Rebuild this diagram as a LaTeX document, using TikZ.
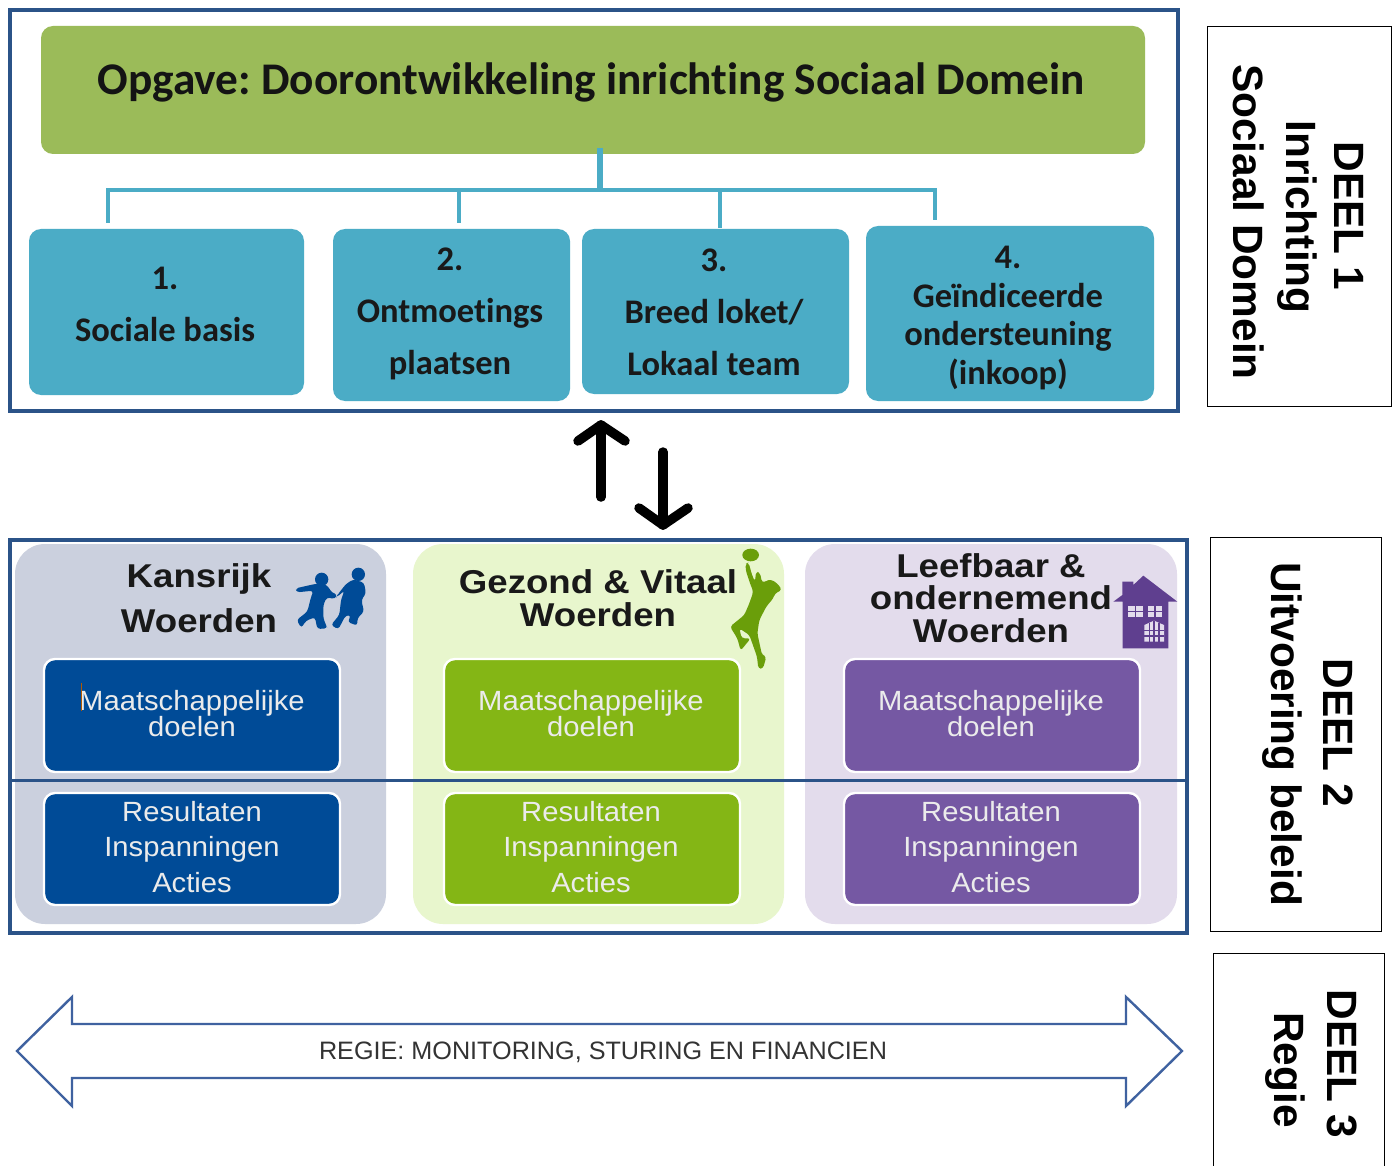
\documentclass[tikz,border=0pt]{standalone}
\usepackage{fontspec}
\setmainfont[Ligatures=NoCommon]{Carlito}
\newfontfamily\arialf[FakeStretch=1.05]{Liberation Sans}
\newfontfamily\regief{Liberation Sans}
\newfontfamily\sidef{Liberation Sans Bold}
\newfontfamily\wideb[FakeStretch=1.11]{Liberation Sans Bold}
\definecolor{frameblue}{HTML}{2B5388}
\definecolor{titlegreen}{HTML}{9BBB59}
\definecolor{teal}{HTML}{4BACC6}
\definecolor{colA}{HTML}{CBD0DE}
\definecolor{colB}{HTML}{E8F6CD}
\definecolor{colC}{HTML}{E3DCEC}
\definecolor{inA}{HTML}{004B97}
\definecolor{inB}{HTML}{84B615}
\definecolor{inC}{HTML}{7558A3}
\definecolor{purp}{HTML}{5F3F8F}
\definecolor{playerg}{HTML}{6A9E0A}
\definecolor{arrowb}{HTML}{3F62A0}
\tikzset{
  x=1pt,y=-1pt,
  frame/.style={draw=frameblue,line width=3.6pt,fill=none},
  sidebox/.style={draw=black,line width=1pt,fill=white},
  tealbox/.style={fill=teal,rounded corners=12pt},
  col/.style={rounded corners=30pt},
  inner/.style={draw=white,line width=2.4pt,rounded corners=11pt},
  tlabel/.style={font=\fontsize{34.5}{52}\selectfont\bfseries,align=center,text=black!90,inner sep=0pt},
  inlabel/.style={text=white!92!black,align=center,inner sep=0pt},
  head/.style={font=\fontsize{33}{33}\wideb,align=center,text=black!90,inner sep=0pt},
  sidelabel/.style={rotate=-90,inner sep=0pt,font=\fontsize{42.4}{50}\sidef,text=black},
  conn/.style={draw=teal,line width=3.4pt},
  updown/.style={draw=black,line width=9.5pt,line join=round,line cap=round},
}
\begin{document}
\begin{tikzpicture}
\useasboundingbox[fill=white] (0,0) rectangle (1397,1166);
% DEEL 1
\draw[frame] (10,10) rectangle (1178,411);
\path[fill=titlegreen,rounded corners=12pt] (41,26) rectangle (1145,154);
\node[inner sep=0pt,font=\frenchspacing\fontsize{45.3}{50}\selectfont\bfseries,text=black!92] (title) at (591,82) {Opgave: Doorontwikkeling inrichting Sociaal Domein};
\path[tealbox] (29,229) rectangle (304,395);
\path[tealbox] (333,229) rectangle (570,401);
\path[tealbox] (582,229) rectangle (849,394);
\path[tealbox] (866,226) rectangle (1154,401);
\node[tlabel] (b1) at (165,304) {1.\\Sociale basis};
\node[tlabel] (b2) at (450,314) {2.\\Ontmoetings\\plaatsen};
\node[tlabel] (b3) at (714,312) {3.\\Breed loket/\\Lokaal team};
\node[tlabel,font=\fontsize{34.5}{38.5}\selectfont\bfseries] (b4) at (1008,318) {4.\\Geïndiceerde\\ondersteuning\\(inkoop)};
\coordinate (trunktop) at (600,148);
\coordinate (hub) at (600,190);
\coordinate (c1) at (108,223);
\coordinate (c2) at (459,223);
\coordinate (c3) at (720,228);
\coordinate (c4) at (935,220);
\draw[conn,line width=6pt] (trunktop) -- (hub);
\draw[conn] (c1) |- (hub);
\draw[conn] (c4) |- (hub);
\draw[conn] (c2) -- (c2 |- hub);
\draw[conn] (c3) -- (c3 |- hub);
% arrows between
\coordinate (upS) at (601,497); \coordinate (upT) at (601,425);
\coordinate (dnS) at (663,452); \coordinate (dnT) at (663,525);
\draw[updown] (upS) -- (upT);
\draw[updown] (578,441) -- (upT) -- (625,441);
\draw[updown] (dnS) -- (dnT);
\draw[updown] (639,508) -- (dnT) -- (688,508);
% DEEL 2
\path[col,fill=colA] (15,544) rectangle (386,924);
\path[col,fill=colB] (413,544) rectangle (784,924);
\path[col,fill=colC] (805,544) rectangle (1177,924);
\path[inner,fill=inA] (44,659) rectangle (340,772);
\path[inner,fill=inA] (44,793) rectangle (340,905);
\path[inner,fill=inB] (444,659) rectangle (740,772);
\path[inner,fill=inB] (444,793) rectangle (740,905);
\path[inner,fill=inC] (844,659) rectangle (1140,772);
\path[inner,fill=inC] (844,793) rectangle (1140,905);
\draw[frame] (10,540) rectangle (1187,933);
\draw[draw=frameblue,line width=3pt] (10,780) -- (1187,780);
\tikzset{lab1/.style={inlabel,font=\fontsize{27.8}{26}\arialf},lab2/.style={inlabel,font=\fontsize{27.8}{35.5}\arialf}}
\node[lab1] (a1) at (192,714) {Maatschappelijke\\doelen};
\node[lab1] (b1t) at (591,714) {Maatschappelijke\\doelen};
\node[lab1] (c1t) at (991,714) {Maatschappelijke\\doelen};
\node[lab2] (a2) at (192,847) {Resultaten\\Inspanningen\\Acties};
\node[lab2] (b2t) at (591,847) {Resultaten\\Inspanningen\\Acties};
\node[lab2] (c2t) at (991,847) {Resultaten\\Inspanningen\\Acties};
\draw[draw=orange!70!black,line width=.8pt] (81,683) -- (81,711);
\node[head,font=\fontsize{33}{45}\wideb] (ha) at (199,598) {Kansrijk\\Woerden};
\node[head] (hb) at (598,598) {Gezond \& Vitaal\\Woerden};
\node[head,font=\fontsize{33}{32.5}\wideb] (hc) at (991,598) {Leefbaar \&\\ondernemend\\Woerden};
% children
\begin{scope}[shift={(280,540)},scale=1/3]
\fill[inA] (125,118) circle (20);
\fill[inA] (235,103) circle (20);
\fill[inA,rounded corners=3pt] (47,145) -- (105,132) -- (130,130) -- (145,140) -- (155,158) -- (172,163) -- (165,177) -- (140,172) -- (130,195) -- (130,235) -- (138,255) -- (142,265) -- (112,267) -- (105,232) -- (78,242) -- (64,264) -- (50,240) -- (82,215) -- (92,175) -- (100,152) -- (50,157) -- cycle;
\fill[inA,rounded corners=3pt] (172,165) -- (198,132) -- (220,118) -- (252,128) -- (258,160) -- (244,180) -- (252,215) -- (232,235) -- (232,257) -- (203,246) -- (213,226) -- (197,226) -- (175,268) -- (153,255) -- (178,225) -- (183,180) -- (193,152) -- (170,172) -- cycle;
\end{scope}
% player
\begin{scope}[shift={(700,540)},scale=1/3]
\fill[playerg] (152,45) ellipse (25 and 19);
\fill[playerg] (208,137) circle (17);
\fill[playerg,rounded corners=3pt] (137,70) -- (146,68) -- (156,105) -- (165,125) -- (168,95) -- (180,98) -- (186,128) -- (195,125) -- (212,118) -- (232,130) -- (246,150) -- (225,160) -- (220,175) -- (200,198) -- (178,240) -- (172,280) -- (186,345) -- (199,350) -- (189,386) -- (175,386) -- (171,350) -- (148,285) -- (118,265) -- (125,295) -- (152,295) -- (122,332) -- (112,295) -- (90,260) -- (133,225) -- (148,190) -- (160,155) -- (150,130) -- (137,90) -- cycle;
\end{scope}
% house
\begin{scope}[shift={(1090,560)},scale=1/3]
\fill[purp] (70,125) -- (97,105) -- (97,65) -- (130,65) -- (130,75) -- (160,47) -- (262,125) -- (235,125) -- (235,265) -- (98,265) -- (98,125) -- cycle;
\fill[colC] (115,138) rectangle (158,172);
\fill[colC] (175,138) rectangle (215,172);
\fill[colC] (163,245) -- (163,195) -- (192,182) -- (222,195) -- (222,245) -- cycle;
\draw[purp,line width=1.2pt] (136,138) -- (136,172) (115,155) -- (158,155) (195,138) -- (195,172) (175,155) -- (215,155) (192,182) -- (192,245) (163,212) -- (222,212) (163,228) -- (222,228) (178,190) -- (178,245) (207,190) -- (207,245);
\end{scope}
% DEEL 3 arrow
\path[draw=arrowb,line width=2.4pt,fill=white,line join=miter] (17,1051) -- (72,997) -- (72,1024) -- (1126,1024) -- (1126,997) -- (1182,1051) -- (1126,1106) -- (1126,1078) -- (72,1078) -- (72,1106) -- cycle;
\node[inner sep=0pt,font=\fontsize{25.2}{30}\regief,text=black!80] (regie) at (603,1052) {REGIE: MONITORING, STURING EN FINANCIEN};
% side boxes
\draw[sidebox] (1207,27) rectangle (1391,406);
\draw[sidebox] (1210,537) rectangle (1381,931);
\draw[sidebox] (1213,953) rectangle (1384,1170);
\node[sidelabel] (d1) at (1349,216) {DEEL 1};
\node[sidelabel] (d1b) at (1297,217) {Inrichting};
\node[sidelabel] (d1c) at (1249,222) {Sociaal Domein};
\node[sidelabel] (d2) at (1338,733) {DEEL 2};
\node[sidelabel] (d2b) at (1282,734) {Uitvoering beleid};
\node[sidelabel] (d3) at (1342,1064) {DEEL 3};
\node[sidelabel] (d3b) at (1285,1070) {Regie};
\end{tikzpicture}
\end{document}
